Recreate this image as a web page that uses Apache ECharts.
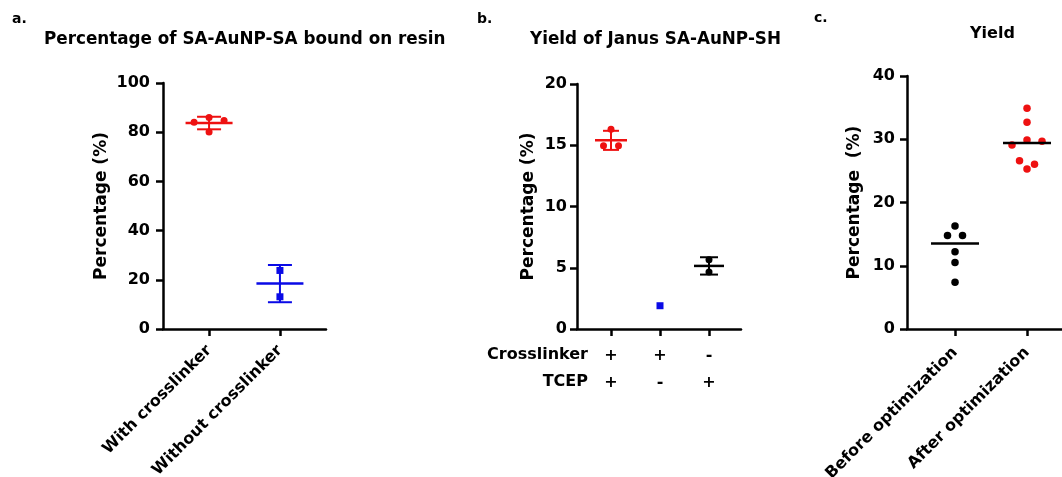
<!DOCTYPE html>
<html>
<head>
<meta charset="utf-8">
<script src="https://cdn.jsdelivr.net/npm/echarts@6/dist/echarts.min.js"></script>
<style>html,body{margin:0;padding:0;background:#fff;}#c{width:1062px;height:477px;}</style>
</head>
<body>
<div id="c"></div>
<script>
// ---------------- DATA ----------------
const aTitle = 'Percentage of SA-AuNP-SA bound on resin';
const aCategories = ['With crosslinker', 'Without crosslinker'];
const aWith = [86.0, 84.8, 84.0, 80.1];
const aWithout = [23.8, 13.1];
const aYTicks = [0, 20, 40, 60, 80, 100];

const bTitle = 'Yield of Janus SA-AuNP-SH';
const bRowNames = ['Crosslinker', 'TCEP'];
const bCrosslinker = ['+', '+', '-'];
const bTCEP = ['+', '-', '+'];
const bGroup1 = [16.3, 14.95, 14.95];
const bGroup2 = [1.9];
const bGroup3 = [5.65, 4.65];
const bYTicks = [0, 5, 10, 15, 20];

const cTitle = 'Yield';
const cCategories = ['Before optimization', 'After optimization'];
const cBefore = [16.3, 14.8, 14.8, 12.2, 10.5, 7.4];
const cAfter = [34.9, 32.7, 29.9, 29.7, 29.1, 26.6, 26.05, 25.3];
const cYTicks = [0, 10, 20, 30, 40];

const yLabelA = 'Percentage (%)';
const yLabelB = 'Percentage (%)';
const yLabelC = 'Percentage  (%)';

// ---------------- LAYOUT ----------------
const FONT = '"DejaVu Sans", "Liberation Sans", Arial, sans-serif';
const RED = '#EE1111', BLUE = '#0A0AE6', BLACK = '#000000';
const grids = [
  {left: 163, top: 83, width: 163, height: 246, xmin: 0.35, xmax: 2.65},
  {left: 577, top: 84, width: 164, height: 245, xmin: 0.306, xmax: 3.653},
  {left: 907, top: 76, width: 155, height: 253, xmin: 0.333, xmax: 2.486}
];
const yRanges = [[0, 100], [0, 20], [0, 40]];

function mean(a) { return a.reduce((s, v) => s + v, 0) / a.length; }
function sd(a) { const m = mean(a); return Math.sqrt(a.reduce((s, v) => s + (v - m) * (v - m), 0) / (a.length - 1)); }
function median(a) { const s = a.slice().sort((p, q) => p - q); const n = s.length; return n % 2 ? s[(n - 1) / 2] : (s[n / 2 - 1] + s[n / 2]) / 2; }

// simple row-based beeswarm: points close in y share a row and are spread horizontally
function swarm(values, pos, gi, stepPx, rowPx) {
  const g = grids[gi], yr = yRanges[gi];
  const xPx = g.width / (g.xmax - g.xmin), yPx = g.height / (yr[1] - yr[0]);
  const sorted = values.slice().sort((p, q) => q - p);
  const rows = []; let cur = null;
  sorted.forEach(v => {
    if (!cur || (cur.top - v) * yPx >= rowPx) { cur = {top: v, items: []}; rows.push(cur); }
    cur.items.push(v);
  });
  const out = [];
  rows.forEach(r => {
    const n = r.items.length; const slots = [];
    if (n % 2) { slots.push(0); for (let k = 1; slots.length < n; k++) { slots.push(k); slots.push(-k); } }
    else { for (let k = 0.5; slots.length < n; k++) { slots.push(-k); slots.push(k); } }
    r.items.forEach((v, k) => out.push([pos + slots[k] * stepPx / xPx, v]));
  });
  return out;
}

function statItem(values, pos, useMedian) {
  if (useMedian) return [pos, median(values), median(values), median(values)];
  const m = mean(values), s = values.length > 1 ? sd(values) : 0;
  return [pos, m, m - s, m + s];
}

function errRender(halfMean, halfCap, showSD) {
  return function (params, api) {
    const x = api.value(0), m = api.value(1), lo = api.value(2), hi = api.value(3);
    const pm = api.coord([x, m]), pl = api.coord([x, lo]), ph = api.coord([x, hi]);
    const col = api.visual('color');
    const st = {stroke: col, lineWidth: 2.5};
    const ch = [{type: 'line', shape: {x1: pm[0] - halfMean, y1: pm[1], x2: pm[0] + halfMean, y2: pm[1]}, style: st}];
    if (showSD) {
      ch.push({type: 'line', shape: {x1: pl[0], y1: pl[1], x2: ph[0], y2: ph[1]}, style: {stroke: col, lineWidth: 2}});
      ch.push({type: 'line', shape: {x1: pl[0] - halfCap, y1: pl[1], x2: pl[0] + halfCap, y2: pl[1]}, style: {stroke: col, lineWidth: 2}});
      ch.push({type: 'line', shape: {x1: ph[0] - halfCap, y1: ph[1], x2: ph[0] + halfCap, y2: ph[1]}, style: {stroke: col, lineWidth: 2}});
    }
    return {type: 'group', children: ch};
  };
}

const axisLine = {show: true, onZero: false, lineStyle: {color: '#000', width: 2.5}};
const axisTick = {show: true, length: 7, lineStyle: {color: '#000', width: 2.5}};
const tickFont = {color: '#000', fontFamily: FONT, fontWeight: 'bold', fontSize: 16};
const titleFont = {fontFamily: FONT, fontWeight: 'bold', fontSize: 16.8, color: '#000'};
const letterFont = {fontFamily: FONT, fontWeight: 'bold', fontSize: 14, color: '#000'};

function makeY(gi, ticks, name, gap, margin) {
  return {
    type: 'value', gridIndex: gi, min: ticks[0], max: ticks[ticks.length - 1],
    interval: ticks[1] - ticks[0], splitLine: {show: false},
    axisLine: axisLine, axisTick: axisTick,
    axisLabel: Object.assign({margin: margin}, tickFont),
    name: name, nameLocation: 'middle', nameRotate: 90, nameGap: gap,
    nameTextStyle: {color: '#000', fontFamily: FONT, fontWeight: 'bold', fontSize: 17}
  };
}

const aPos = aCategories.map((c, i) => i + 1);
const cPos = cCategories.map((c, i) => i + 1);
const bPos = bCrosslinker.map((c, i) => i + 1);

const option = {
  animation: false,
  backgroundColor: '#fff',
  title: [
    {text: 'a.', left: 12, top: 12, padding: 0, textStyle: letterFont},
    {text: aTitle, left: 44, top: 31, padding: 0, textStyle: titleFont},
    {text: 'b.', left: 477, top: 12, padding: 0, textStyle: letterFont},
    {text: bTitle, left: 530, top: 31, padding: 0, textStyle: titleFont},
    {text: 'c.', left: 814, top: 11, padding: 0, textStyle: letterFont},
    {text: cTitle, left: 970, top: 26, padding: 0, textStyle: Object.assign({}, titleFont, {fontSize: 16})}
  ],
  graphic: bRowNames.map((t, i) => ({
    type: 'text', x: 588, y: 355 + i * 27,
    style: {text: t, textAlign: 'right', textVerticalAlign: 'middle', font: 'bold 16px ' + FONT, fill: '#000'}
  })),
  grid: grids.map(g => ({left: g.left, top: g.top, width: g.width, height: g.height,
    containLabel: false, outerBoundsMode: 'none'})),
  xAxis: [
    {type: 'value', gridIndex: 0, min: grids[0].xmin, max: grids[0].xmax, splitLine: {show: false},
     axisLine: axisLine, axisTick: Object.assign({customValues: aPos}, axisTick),
     axisLabel: Object.assign({customValues: aPos, rotate: 45, margin: 19,
       formatter: v => aCategories[Math.round(v) - 1] || ''}, tickFont)},
    {type: 'value', gridIndex: 1, min: grids[1].xmin, max: grids[1].xmax, splitLine: {show: false},
     axisLine: axisLine, axisTick: Object.assign({customValues: bPos}, axisTick),
     axisLabel: Object.assign({customValues: bPos, margin: 13, lineHeight: 27, verticalAlign: 'top',
       formatter: v => { const i = Math.round(v) - 1; return bCrosslinker[i] + '\n' + bTCEP[i]; }}, tickFont)},
    {type: 'value', gridIndex: 2, min: grids[2].xmin, max: grids[2].xmax, splitLine: {show: false},
     axisLine: axisLine, axisTick: Object.assign({customValues: cPos}, axisTick),
     axisLabel: Object.assign({customValues: cPos, rotate: 45, margin: 21,
       formatter: v => cCategories[Math.round(v) - 1] || ''}, tickFont)}
  ],
  yAxis: [
    makeY(0, aYTicks, yLabelA, 53, 13),
    makeY(1, bYTicks, yLabelB, 40, 10),
    makeY(2, cYTicks, yLabelC, 44, 12)
  ],
  series: [
    // panel a
    {type: 'custom', xAxisIndex: 0, yAxisIndex: 0, itemStyle: {color: RED}, renderItem: errRender(23.5, 12, true),
     data: [statItem(aWith, aPos[0])], z: 3},
    {type: 'custom', xAxisIndex: 0, yAxisIndex: 0, itemStyle: {color: BLUE}, renderItem: errRender(23.5, 12, true),
     data: [statItem(aWithout, aPos[1])], z: 3},
    {type: 'scatter', xAxisIndex: 0, yAxisIndex: 0, symbol: 'circle', symbolSize: 7, itemStyle: {color: RED, opacity: 1},
     data: swarm(aWith, aPos[0], 0, 15, 6.5), z: 4},
    {type: 'scatter', xAxisIndex: 0, yAxisIndex: 0, symbol: 'rect', symbolSize: 7, itemStyle: {color: BLUE, opacity: 1},
     data: swarm(aWithout, aPos[1], 0, 15, 6.5), z: 4},
    // panel b
    {type: 'custom', xAxisIndex: 1, yAxisIndex: 1, itemStyle: {color: RED}, renderItem: errRender(16, 8, true),
     data: [statItem(bGroup1, bPos[0])], z: 3},
    {type: 'custom', xAxisIndex: 1, yAxisIndex: 1, itemStyle: {color: BLACK}, renderItem: errRender(15, 9, true),
     data: [statItem(bGroup3, bPos[2])], z: 3},
    {type: 'scatter', xAxisIndex: 1, yAxisIndex: 1, symbol: 'circle', symbolSize: 7, itemStyle: {color: RED, opacity: 1},
     data: swarm(bGroup1, bPos[0], 1, 15, 6.5), z: 4},
    {type: 'scatter', xAxisIndex: 1, yAxisIndex: 1, symbol: 'rect', symbolSize: 7, itemStyle: {color: BLUE, opacity: 1},
     data: swarm(bGroup2, bPos[1], 1, 15, 6.5), z: 4},
    {type: 'scatter', xAxisIndex: 1, yAxisIndex: 1, symbol: 'circle', symbolSize: 7, itemStyle: {color: BLACK, opacity: 1},
     data: swarm(bGroup3, bPos[2], 1, 15, 6.5), z: 4},
    // panel c
    {type: 'custom', xAxisIndex: 2, yAxisIndex: 2, itemStyle: {color: BLACK}, renderItem: errRender(24, 0, false),
     data: [statItem(cBefore, cPos[0], true), statItem(cAfter, cPos[1], true)], z: 5},
    {type: 'scatter', xAxisIndex: 2, yAxisIndex: 2, symbol: 'circle', symbolSize: 7.5, itemStyle: {color: BLACK, opacity: 1},
     data: swarm(cBefore, cPos[0], 2, 15, 6.5), z: 4},
    {type: 'scatter', xAxisIndex: 2, yAxisIndex: 2, symbol: 'circle', symbolSize: 7.5, itemStyle: {color: RED, opacity: 1},
     data: swarm(cAfter, cPos[1], 2, 15, 6.5), z: 4}
  ]
};

const chart = echarts.init(document.getElementById('c'), null, {renderer: 'canvas'});
chart.setOption(option);
</script>
</body>
</html>
